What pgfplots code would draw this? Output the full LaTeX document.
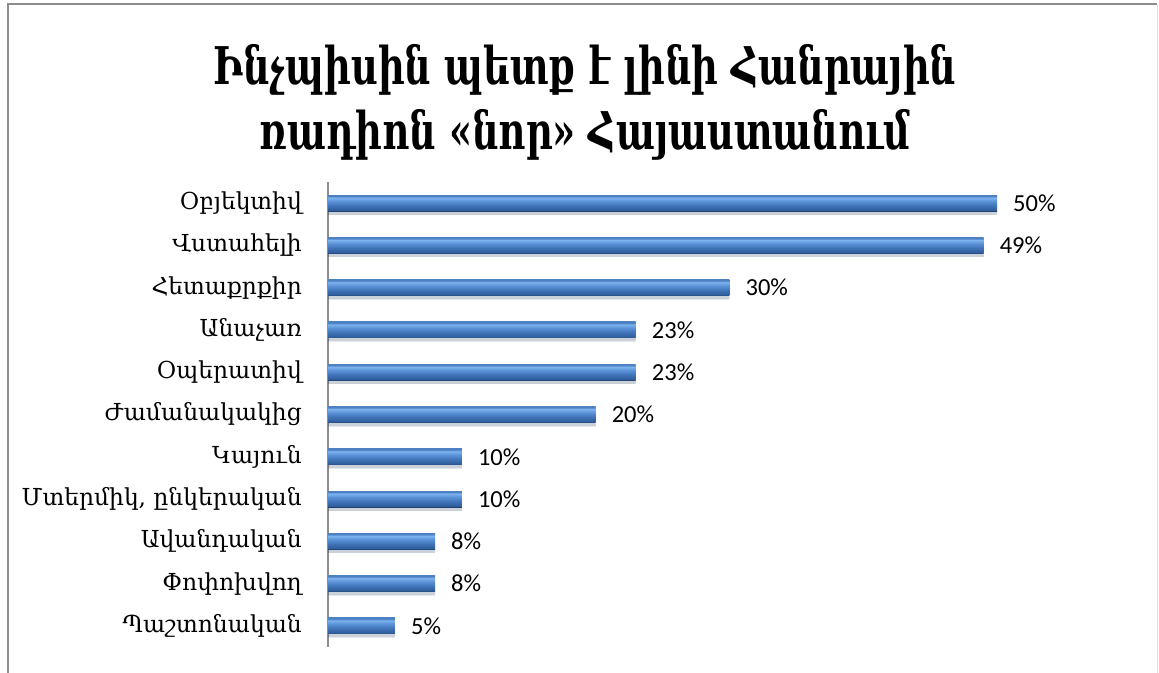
\documentclass[border=0pt]{standalone}
\usepackage{fontspec}
\setmainfont{Carlito}
\newfontfamily\armfont{DejaVu Serif}
\newfontfamily\armtitle[FakeStretch=0.79]{DejaVu Serif Condensed Bold}
\usepackage{pgfplots}
\pgfplotsset{compat=1.18}
\usetikzlibrary{shadows}
\definecolor{axisgray}{HTML}{8C8C8C}
\definecolor{bA}{HTML}{1F3F6E}
\definecolor{bB}{HTML}{2F5D9A}
\definecolor{bC}{HTML}{3F73B8}
\definecolor{bD}{HTML}{5A92D8}
\definecolor{bE}{HTML}{7DB3EE}
\definecolor{bF}{HTML}{4E80C4}
\pgfdeclareverticalshading{barshade}{100bp}{color(0bp)=(bA); color(25bp)=(bA); color(28bp)=(bB); color(42bp)=(bC); color(56bp)=(bD); color(67bp)=(bE); color(72bp)=(bF); color(75bp)=(bF); color(100bp)=(bF)}
\pgfplotsset{mybar/.style={xbar, bar width=16pt, bar shift=0pt, draw=none, shade, shading=barshade,
  drop shadow={shadow xshift=0pt, shadow yshift=-3.5pt, opacity=0.12, fill=black}}}
\begin{document}
\begin{tikzpicture}[x=1pt,y=1pt]
\useasboundingbox (0,0) rectangle (1159,672);
\draw[axisgray, line width=2pt] (8,-5) -- (8,668) -- (1157,668);
\draw[gray!25, line width=1pt] (1157,668) -- (1157,-5);
\node[anchor=base, font=\armtitle\fontsize{52}{62}\selectfont] at (585,587) {Ինչպիսին պետք է լինի Հանրային};
\node[anchor=base, font=\armtitle\fontsize{52}{62}\selectfont] at (585,522) {ռադիոն «նոր» Հայաստանում};
\begin{axis}[at={(328pt,25pt)}, anchor=south west, scale only axis,
  width=669pt, height=465pt,
  xmin=0, xmax=50, ymin=-0.5, ymax=10.5, y dir=reverse,
  axis x line=none, axis y line*=left,
  y axis line style={axisgray, line width=2pt},
  ytick={0,...,10},
  yticklabels={Օբյեկտիվ\ ,Վստահելի\ ,Հետաքրքիր,Անաչառ,Օպերատիվ,Ժամանակակից,Կայուն,{Մտերմիկ, ընկերական},Ավանդական,Փոփոխվող,Պաշտոնական},
  major tick length=0pt,
  yticklabel style={font=\armfont\fontsize{23.4}{27}\selectfont, anchor=east, inner sep=0pt, xshift=-26pt},
  clip=false,
  point meta=x,
  nodes near coords={\pgfmathprintnumber[assume math mode=true]{\pgfplotspointmeta}\%},
  every node near coord/.append style={font=\fontsize{24.5}{28}\selectfont, anchor=west, inner sep=0pt, xshift=16pt, black},
]
\addplot[mybar] coordinates {(50,0)};
\addplot[mybar] coordinates {(49,1)};
\addplot[mybar] coordinates {(30,2)};
\addplot[mybar] coordinates {(23,3)};
\addplot[mybar] coordinates {(23,4)};
\addplot[mybar] coordinates {(20,5)};
\addplot[mybar] coordinates {(10,6)};
\addplot[mybar] coordinates {(10,7)};
\addplot[mybar] coordinates {(8,8)};
\addplot[mybar] coordinates {(8,9)};
\addplot[mybar] coordinates {(5,10)};
\end{axis}
\end{tikzpicture}
\end{document}
